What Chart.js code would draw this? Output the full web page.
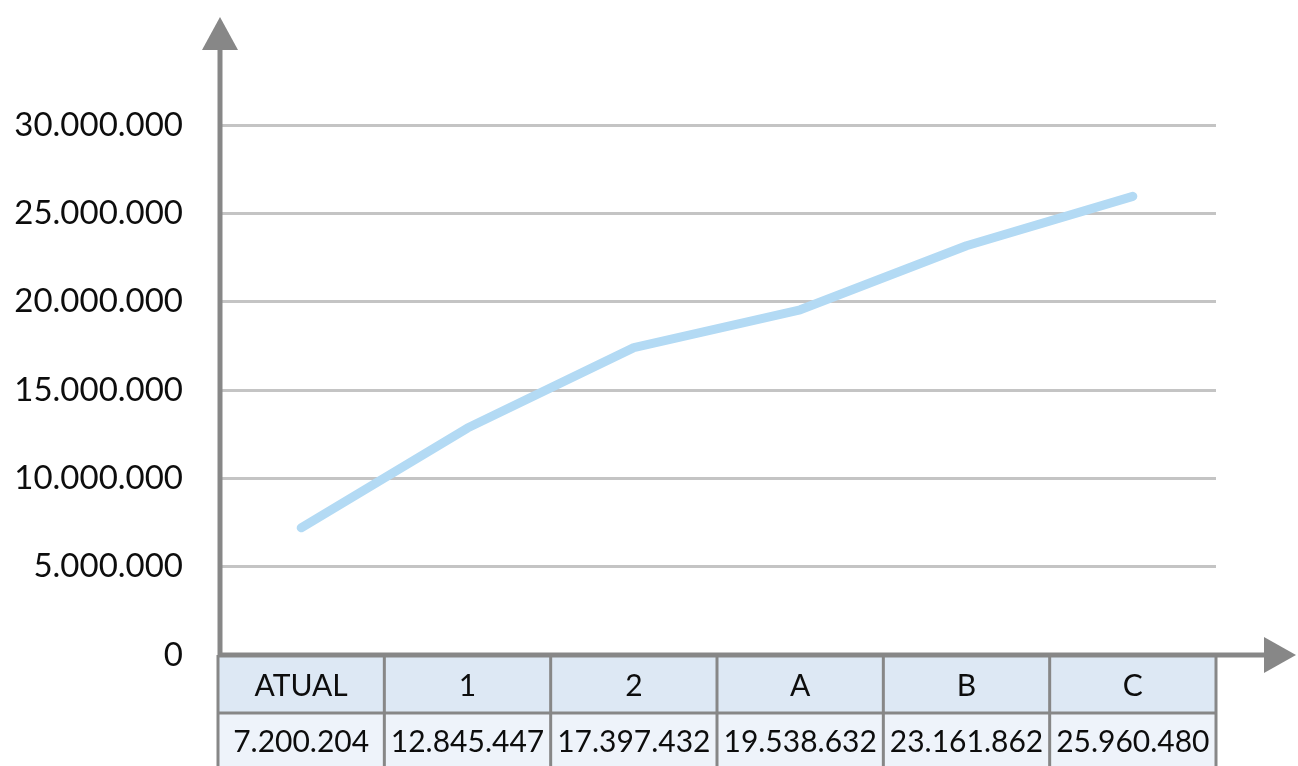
<!DOCTYPE html>
<html>
<head>
<meta charset="utf-8">
<script src="https://cdn.jsdelivr.net/npm/chart.js@4.4.1/dist/chart.umd.min.js"></script>
<style>
  html, body { margin: 0; padding: 0; background: #ffffff; }
  #wrap { position: relative; width: 1298px; height: 766px; }
</style>
</head>
<body>
<div id="wrap"><canvas id="chart" width="1298" height="766"></canvas></div>
<script>
// Scenarios and their projected totals
const categories = ['ATUAL', '1', '2', 'A', 'B', 'C'];
const totals = [7200204, 12845447, 17397432, 19538632, 23161862, 25960480];
const yTicks = [0, 5000000, 10000000, 15000000, 20000000, 25000000, 30000000];

const FONT = 'Lato, "Open Sans", sans-serif';
const AXIS_COLOR = '#878787';

function formatNumber(n) {
  const s = String(Math.round(n));
  return s.replace(/\B(?=(\d{3})+(?!\d))/g, '.');
}

// Axes with arrow heads plus the data table under the plot
const axesAndTable = {
  id: 'axesAndTable',
  afterDraw(chart) {
    const ctx = chart.ctx;
    const area = chart.chartArea;
    const x = chart.scales.x;
    const y = chart.scales.y;
    const baseY = y.getPixelForValue(0);
    const axisX = area.left + 2;
    ctx.save();

    // table cells
    const n = categories.length;
    const half = (x.getPixelForValue(1) - x.getPixelForValue(0)) / 2;
    const row1Top = baseY + 2, row1Bottom = baseY + 58, row2Bottom = chart.height + 2;
    for (let i = 0; i < n; i++) {
      const cx = x.getPixelForValue(i);
      const l = cx - half, r = cx + half;
      ctx.fillStyle = '#dde8f4';
      ctx.fillRect(l, row1Top, r - l, row1Bottom - row1Top);
      ctx.fillStyle = '#eef3fa';
      ctx.fillRect(l, row1Bottom, r - l, row2Bottom - row1Bottom);
    }
    ctx.strokeStyle = AXIS_COLOR;
    ctx.lineWidth = 3;
    ctx.beginPath();
    for (let i = 0; i <= n; i++) {
      const ex = x.getPixelForValue(0) - half + i * 2 * half;
      ctx.moveTo(ex, baseY);
      ctx.lineTo(ex, row2Bottom);
    }
    ctx.moveTo(x.getPixelForValue(0) - half, row1Bottom);
    ctx.lineTo(x.getPixelForValue(n - 1) + half, row1Bottom);
    ctx.stroke();

    ctx.fillStyle = '#0d0d0d';
    ctx.textAlign = 'center';
    ctx.textBaseline = 'middle';
    ctx.font = '30px ' + FONT;
    for (let i = 0; i < n; i++) {
      const cx = x.getPixelForValue(i);
      ctx.fillText(categories[i], cx, (row1Top + row1Bottom) / 2 + 1);
      ctx.fillText(formatNumber(totals[i]), cx, row1Bottom + 29);
    }

    // vertical axis with arrow
    ctx.fillStyle = AXIS_COLOR;
    ctx.strokeStyle = AXIS_COLOR;
    ctx.lineWidth = 5;
    ctx.beginPath();
    ctx.moveTo(axisX, baseY + 2);
    ctx.lineTo(axisX, 48);
    ctx.stroke();
    ctx.beginPath();
    ctx.moveTo(axisX, 17);
    ctx.lineTo(axisX - 18, 50);
    ctx.lineTo(axisX + 18, 50);
    ctx.closePath();
    ctx.fill();

    // horizontal axis with arrow
    ctx.beginPath();
    ctx.moveTo(axisX - 2, baseY);
    ctx.lineTo(1266, baseY);
    ctx.stroke();
    ctx.beginPath();
    ctx.moveTo(1296, baseY);
    ctx.lineTo(1264, baseY - 18);
    ctx.lineTo(1264, baseY + 18);
    ctx.closePath();
    ctx.fill();
    ctx.restore();
  }
};

new Chart(document.getElementById('chart'), {
  type: 'line',
  data: {
    labels: categories,
    datasets: [{
      data: totals,
      borderColor: '#b3daf4',
      borderWidth: 9,
      borderCapStyle: 'round',
      borderJoinStyle: 'round',
      pointRadius: 0,
      tension: 0,
      fill: false
    }]
  },
  options: {
    responsive: false,
    animation: false,
    devicePixelRatio: 1,
    layout: { padding: { top: 125, right: 82, left: 0, bottom: 0 } },
    plugins: { legend: { display: false }, tooltip: { enabled: false } },
    scales: {
      x: {
        type: 'category',
        offset: true,
        grid: { display: false, drawTicks: false },
        border: { display: false },
        ticks: { display: false },
        afterFit(scale) { scale.height = 111; }
      },
      y: {
        min: 0,
        max: 30000000,
        afterBuildTicks(scale) { scale.ticks = yTicks.map(v => ({ value: v })); },
        afterFit(scale) { scale.width = 218; },
        grid: { color: '#c4c4c4', lineWidth: 3, drawTicks: false },
        border: { display: false },
        ticks: {
          padding: 35,
          color: '#0d0d0d',
          font: { family: FONT, size: 33 },
          callback: v => formatNumber(v)
        }
      }
    }
  },
  plugins: [axesAndTable]
});
</script>
</body>
</html>
